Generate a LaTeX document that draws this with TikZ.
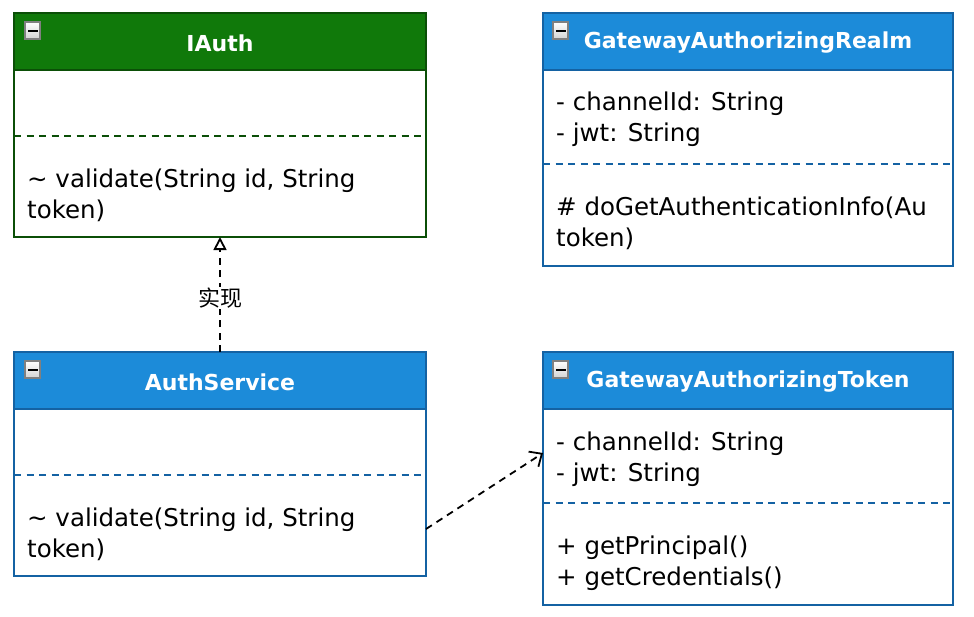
\documentclass[tikz,border=0pt]{standalone}
\usepackage{fontspec}
\setmainfont{DejaVu Sans}
\newfontfamily\cjk{Noto Sans CJK SC}
\usetikzlibrary{arrows.meta}
\definecolor{gfill}{HTML}{10790A}
\definecolor{gline}{HTML}{0B4F07}
\definecolor{bfill}{HTML}{1C8BD9}
\definecolor{bline}{HTML}{1462A3}
\definecolor{iconb}{HTML}{808080}
\tikzset{
  hdr/.style={fill=#1},
  body/.style={fill=white},
  boxline/.style={draw=#1, line width=2pt},
  sep/.style={draw=#1, line width=1.8pt, dash pattern=on 7pt off 5.5pt},
  title/.style={text=white, font=\fontsize{22}{26}\selectfont\bfseries, anchor=center, inner sep=0pt},
  member/.style={font=\fontsize{24.5}{31}\selectfont, anchor=base west, inner sep=0pt},
  conn/.style={line width=1.8pt, dash pattern=on 7pt off 5.5pt},
}
\newcommand{\umlicon}[2]{%
  \shade[top color=white, bottom color=gray!35, draw=iconb, line width=2.2pt] (#1,#2) rectangle ++(15,17);
  \fill[black] (#1+2.5,#2+7.5) rectangle ++(10,2.8);
}
\begin{document}
\begin{tikzpicture}[x=1pt,y=-1pt]
\useasboundingbox (0,0) rectangle (974,616);
% ---------- IAuth ----------
\fill[body] (14,13) rectangle (426,237);
\fill[hdr=gfill] (14,13) rectangle (426,70);
\draw[gline, line width=2pt] (14,70) -- (426,70);
\draw[sep=gline] (14,136) -- (426,136);
\draw[boxline=gline] (14,13) rectangle (426,237);
\umlicon{25}{22}
\node[title] (iauthT) at (220,43) {IAuth};
\node[member] (iauthM1) at (27,187) {\textasciitilde\ validate(String id, String};
\node[member] (iauthM2) at (27,218) {token)};
\coordinate (iauthB) at (220,237);
% ---------- GatewayAuthorizingRealm ----------
\fill[body] (543,13) rectangle (953,266);
\fill[hdr=bfill] (543,13) rectangle (953,70);
\draw[bline, line width=2pt] (543,70) -- (953,70);
\draw[sep=bline] (543,164) -- (953,164);
\draw[boxline=bline] (543,13) rectangle (953,266);
\umlicon{553}{22}
\node[title] (realmT) at (748,43) {GatewayAuthorizingRealm};
\node[member] (realmA1) at (556,110) {- channelId: String};
\node[member] (realmA2) at (556,141) {- jwt: String};
\node[member] (realmM1) at (556,215) {\# doGetAuthenticationInfo(Au};
\node[member] (realmM2) at (556,246) {token)};
% ---------- AuthService ----------
\fill[body] (14,352) rectangle (426,576);
\fill[hdr=bfill] (14,352) rectangle (426,409);
\draw[bline, line width=2pt] (14,409) -- (426,409);
\draw[sep=bline] (14,475) -- (426,475);
\draw[boxline=bline] (14,352) rectangle (426,576);
\umlicon{25}{361}
\node[title] (svcT) at (220,382) {AuthService};
\node[member] (svcM1) at (27,526) {\textasciitilde\ validate(String id, String};
\node[member] (svcM2) at (27,557) {token)};
\coordinate (svcTop) at (220,352);
\coordinate (svcR) at (426,529);
% ---------- GatewayAuthorizingToken ----------
\fill[body] (543,352) rectangle (953,605);
\fill[hdr=bfill] (543,352) rectangle (953,409);
\draw[bline, line width=2pt] (543,409) -- (953,409);
\draw[sep=bline] (543,503) -- (953,503);
\draw[boxline=bline] (543,352) rectangle (953,605);
\umlicon{553}{361}
\node[title] (tokT) at (748,382) {GatewayAuthorizingToken};
\node[member] (tokA1) at (556,450) {- channelId: String};
\node[member] (tokA2) at (556,481) {- jwt: String};
\node[member] (tokM1) at (556,554) {+ getPrincipal()};
\node[member] (tokM2) at (556,585) {+ getCredentials()};
\coordinate (tokL) at (543,453);
% ---------- connectors ----------
\draw[conn, -{Triangle[open, length=13pt, width=13pt, line width=1.8pt]}] (svcTop) -- (iauthB)
  node[pos=0.47, fill=white, inner sep=1pt, font=\cjk\fontsize{22}{26}\selectfont] (lbl) {实现};
\draw[conn, -{Straight Barb[length=10pt, width=18pt, line width=1.8pt]}] (svcR) -- (tokL);
\end{tikzpicture}
\end{document}
